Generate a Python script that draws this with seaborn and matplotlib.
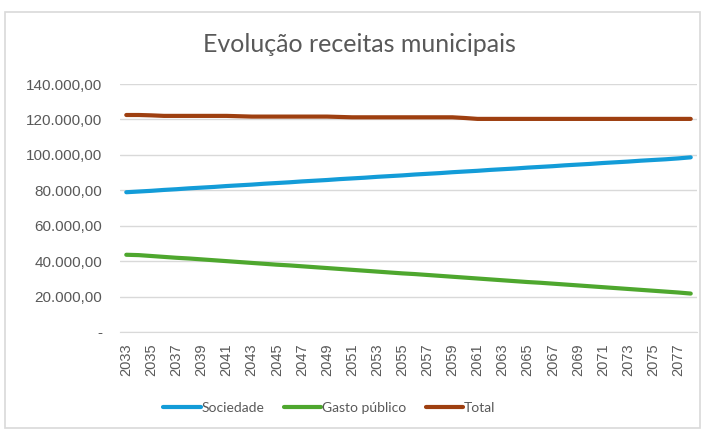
import numpy as np
import pandas as pd
import matplotlib
matplotlib.use("Agg")
import matplotlib.pyplot as plt
import seaborn as sns
from matplotlib.patches import Rectangle
from matplotlib.ticker import FuncFormatter

years = list(range(2033, 2079))
sociedade = [78900, 79300, 79700, 80200, 80600, 81100, 81500, 81900, 82400, 82800,
             83200, 83700, 84100, 84500, 85000, 85400, 85800, 86300, 86700, 87100,
             87600, 88000, 88400, 88900, 89300, 89700, 90200, 90600, 91000, 91500,
             91900, 92300, 92800, 93200, 93600, 94100, 94500, 94900, 95400, 95800,
             96200, 96700, 97100, 97500, 98000, 98600]
gasto = [43600, 43400, 42900, 42400, 41900, 41500, 41000, 40500, 40000, 39500,
         39000, 38500, 38000, 37600, 37100, 36600, 36100, 35600, 35100, 34600,
         34100, 33600, 33100, 32700, 32200, 31700, 31200, 30700, 30200, 29700,
         29200, 28700, 28200, 27800, 27300, 26800, 26300, 25800, 25300, 24800,
         24300, 23800, 23300, 22800, 22300, 21700]
total = [122500, 122500, 122300, 122000, 122000, 122000, 122000, 122000, 122000, 121800,
         121600, 121600, 121600, 121600, 121600, 121600, 121600, 121400, 121200, 121200,
         121200, 121200, 121200, 121200, 121200, 121200, 121200, 120800, 120300, 120300,
         120300, 120300, 120300, 120300, 120300, 120300, 120300, 120300, 120300, 120300,
         120300, 120300, 120300, 120300, 120300, 120300]
series_names = ["Sociedade", "Gasto público", "Total"]
colors = ["#139cd8", "#4ea72e", "#9e3f10"]

df = pd.DataFrame({"Ano": years * 3,
                   "Valor": sociedade + gasto + total,
                   "Serie": [series_names[0]] * len(years) + [series_names[1]] * len(years)
                            + [series_names[2]] * len(years)})

sns.set_style("white")
plt.rcParams["font.family"] = ["Lato", "DejaVu Sans"]
txt = "#595959"

fig = plt.figure(figsize=(7.08, 4.29), dpi=100)
fig.patches.append(Rectangle((5 / 708, 0.002), 695 / 708, 1 - 12 / 429 - 0.002,
                             transform=fig.transFigure, fill=False,
                             edgecolor="#d9d9d9", linewidth=1.2))
ax = fig.add_axes([120 / 708, 1 - 332 / 429, 577 / 708, 248 / 429])

sns.lineplot(data=df, x="Ano", y="Valor", hue="Serie", palette=colors,
             linewidth=3, ax=ax, legend=False, solid_capstyle="round")

ax.set_xlim(2032.5, 2078.5)
ax.set_ylim(0, 140000)
ax.set_yticks(range(0, 140001, 20000))
ax.yaxis.set_major_formatter(FuncFormatter(
    lambda v, p: "-" if v == 0 else f"{v:,.2f}".replace(",", "X").replace(".", ",").replace("X", ".")))
ax.set_xticks(years[::2])
ax.set_xticklabels([str(y) for y in years[::2]], rotation=90)
ax.tick_params(axis="both", length=0, labelsize=10.5, colors=txt)
ax.tick_params(axis="y", pad=13, labelsize=11)
ax.tick_params(axis="x", pad=8)
for lab in ax.get_xticklabels() + ax.get_yticklabels():
    lab.set_family(["Liberation Sans", "DejaVu Sans"])
ax.grid(axis="y", color="#d9d9d9", linewidth=1)
ax.set_axisbelow(True)
for s in ["left", "right", "top"]:
    ax.spines[s].set_visible(False)
ax.spines["bottom"].set_color("#d9d9d9")
ax.set_xlabel("")
ax.set_ylabel("")

fig.text(0.507, 1 - 45 / 429, "Evolução receitas municipais", ha="center", va="center",
         fontsize=18, color=txt)

handles = [plt.Line2D([], [], color=c, linewidth=3) for c in colors]
fig.legend(handles, series_names, loc="center", bbox_to_anchor=(0.465, 1 - 408 / 429),
           ncol=3, frameon=False, fontsize=10, labelcolor=txt, handlelength=2.7,
           handletextpad=0.05, columnspacing=1.4)

fig.savefig("out.png", dpi=100)
